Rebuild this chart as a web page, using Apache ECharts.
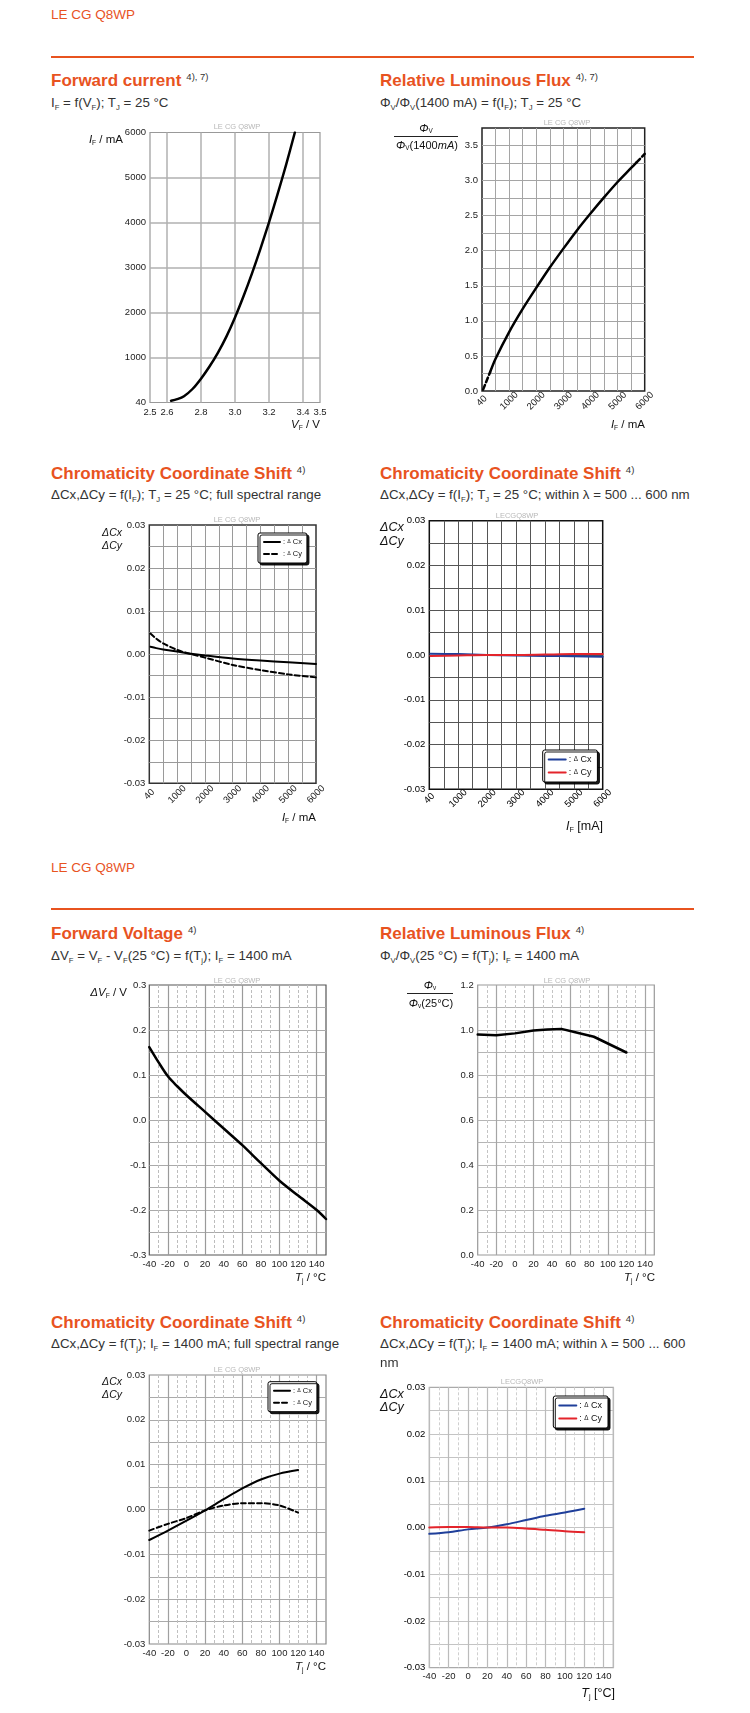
<!DOCTYPE html>
<html>
<head>
<meta charset="utf-8">
<title>LE CG Q8WP</title>
<script src="https://cdn.jsdelivr.net/npm/echarts@6/dist/echarts.min.js"></script>
<style>
html,body{margin:0;padding:0;background:#fff;}
#page{position:relative;width:750px;height:1713px;overflow:hidden;font-family:"Liberation Sans",Arial,Helvetica,sans-serif;color:#333;}
.t{position:absolute;white-space:nowrap;line-height:1;}
.hdr{font-size:13.5px;color:#e8531f;}
.rule{position:absolute;left:51px;width:643px;height:2px;background:#e8531f;}
.ttl{font-size:17px;font-weight:bold;color:#e8531f;}
.sup{font-size:9.5px;font-weight:normal;color:#333;vertical-align:top;margin-left:5px;}
.sub{font-size:13.3px;color:#333;}
.t sub{font-size:0.58em;vertical-align:-0.28em;line-height:0;}
.wm{font-size:7.5px;color:#b8b8b8;}
.an{font-size:11.5px;color:#111;}
.an10{font-size:10.5px;color:#111;font-style:italic;}
.an4{font-size:12.5px;color:#111;font-style:italic;}
.an4n{font-size:12.5px;color:#111;}
.fr{font-size:11px;color:#111;}
.frac{position:absolute;height:1px;background:#222;}
.chart{position:absolute;}
</style>
</head>
<body>
<div id="page"></div>
<script>
// ================= DATA =================
// Forward current I_F vs V_F
const fcVoltage = [2.624, 2.66, 2.70, 2.75, 2.80, 2.85, 2.90, 2.95, 3.00, 3.05, 3.10, 3.15, 3.20, 3.25, 3.30, 3.352];
const fcCurrent = [40, 75, 140, 300, 530, 800, 1110, 1470, 1890, 2360, 2870, 3420, 4005, 4625, 5275, 6000];
const fcXTickLabels = ['2.5', '2.6', '2.8', '3.0', '3.2', '3.4', '3.5'];
const fcYTickLabels = ['40', '1000', '2000', '3000', '4000', '5000', '6000'];

// Relative luminous flux vs I_F
const rlfCurrent = [40, 300, 500, 1000, 1500, 2000, 2500, 3000, 3500, 4000, 4500, 5000, 5500, 5700, 6000];
const rlfRatio = [0.02, 0.27, 0.46, 0.84, 1.17, 1.47, 1.76, 2.03, 2.29, 2.53, 2.76, 2.98, 3.18, 3.26, 3.38];
const rlfYTickLabels = ['0.0', '0.5', '1.0', '1.5', '2.0', '2.5', '3.0', '3.5'];
const ifTickLabels = ['40', '1000', '2000', '3000', '4000', '5000', '6000'];

// Chromaticity shift vs I_F, full spectral range
const csIfCurrent = [40, 250, 500, 1000, 1500, 2000, 3000, 4000, 5000, 6000];
const csIfCx = [0.0017, 0.0014, 0.0011, 0.0006, 0.0001, -0.0003, -0.0010, -0.0015, -0.0019, -0.0023];
const csIfCy = [0.0048, 0.0036, 0.0025, 0.0010, 0.0000, -0.0008, -0.0025, -0.0037, -0.0047, -0.0054];

// Chromaticity shift vs I_F, within 500...600 nm
const csLamCurrent = [40, 1000, 2000, 3000, 4000, 5000, 6000];
const csLamCx = [0.0003, 0.0002, 0.0000, -0.0001, -0.0002, -0.0003, -0.0004];
const csLamCy = [-0.0002, -0.0001, 0.0000, 0.0000, 0.0001, 0.0002, 0.0002];
const ccYTickLabels = ['-0.03', '-0.02', '-0.01', '0.00', '0.01', '0.02', '0.03'];

// Forward voltage shift vs T_j
const fvTemp = [-40, -30, -20, -10, 0, 20, 40, 60, 80, 100, 120, 140, 150];
const fvDelta = [0.162, 0.128, 0.097, 0.075, 0.055, 0.018, -0.019, -0.056, -0.096, -0.135, -0.168, -0.200, -0.220];
const fvYTickLabels = ['-0.3', '-0.2', '-0.1', '0.0', '0.1', '0.2', '0.3'];

// Relative luminous flux vs T_j
const rlfTTemp = [-40, -20, 0, 20, 35, 50, 65, 85, 100, 120];
const rlfTRatio = [0.980, 0.977, 0.985, 0.998, 1.002, 1.005, 0.990, 0.970, 0.940, 0.900];
const rlfTYTickLabels = ['0.0', '0.2', '0.4', '0.6', '0.8', '1.0', '1.2'];

// Chromaticity shift vs T_j, full spectral range
const csTjTemp = [-40, -20, 0, 20, 40, 60, 80, 100, 120];
const csTjCx = [-0.0068, -0.0047, -0.0025, -0.0002, 0.0023, 0.0047, 0.0067, 0.0080, 0.0088];
const csTjCy = [-0.0047, -0.0032, -0.0019, -0.0002, 0.0009, 0.0014, 0.0014, 0.0009, -0.0007];

// Chromaticity shift vs T_j, within 500...600 nm
const csTjLamTemp = [-40, -20, 0, 20, 40, 60, 80, 100, 120];
const csTjLamCx = [-0.00135, -0.0010, -0.0004, 0.0000, 0.0007, 0.0016, 0.0025, 0.0032, 0.0040];
const csTjLamCy = [0.0000, 0.0001, 0.0001, 0.0000, 0.0000, -0.0002, -0.0005, -0.0008, -0.0010];

const tjXTickLabels = ['-40', '-20', '0', '20', '40', '60', '80', '100', '120', '140'];

// ================= HELPERS =================
const FONT = '"Liberation Sans", Arial, Helvetica, sans-serif';
const page = document.getElementById('page');

function put(html, x, y, cls, anchor) {
  const d = document.createElement('div');
  d.className = 't ' + cls;
  d.innerHTML = html;
  d.style.left = x + 'px';
  d.style.top = y + 'px';
  const tx = anchor === 'r' ? '-100%' : (anchor === 'c' ? '-50%' : '0');
  d.style.transform = 'translate(' + tx + ',-50%)';
  page.appendChild(d);
  return d;
}
function rule(y) {
  const d = document.createElement('div');
  d.className = 'rule';
  d.style.top = y + 'px';
  page.appendChild(d);
}
function fracLine(x, y, w) {
  const d = document.createElement('div');
  d.className = 'frac';
  d.style.left = x + 'px'; d.style.top = y + 'px'; d.style.width = w + 'px';
  page.appendChild(d);
}
function chartDiv(left, top, w, h) {
  const d = document.createElement('div');
  d.className = 'chart';
  d.style.left = left + 'px'; d.style.top = top + 'px';
  d.style.width = w + 'px'; d.style.height = h + 'px';
  page.appendChild(d);
  return echarts.init(d, null, { renderer: 'canvas' });
}
function lbl(extra) {
  return Object.assign({ fontSize: 9.5, color: '#222', fontFamily: FONT, margin: 4 }, extra);
}
function split(color, width, type, hideEdges) {
  return { show: true, showMinLine: !hideEdges, showMaxLine: !hideEdges,
    lineStyle: { color: color, width: width || 1, type: type || 'solid' } };
}
function vAxis(min, max, interval, label, splitLine, extra) {
  return Object.assign({ type: 'value', min: min, max: max, interval: interval,
    axisLine: { show: false }, axisTick: { show: false },
    axisLabel: label, splitLine: splitLine }, extra || {});
}
function pairs(xs, ys) { return xs.map((x, i) => [x, ys[i]]); }
function lineSeries(name, data, color, width, type, smooth) {
  return { name: name, type: 'line', data: data, symbol: 'none', showSymbol: false,
    smooth: smooth ? 0.3 : false, silent: true, z: 5,
    lineStyle: { color: color, width: width, type: type || 'solid', cap: 'round', join: 'round' },
    itemStyle: { color: color } };
}
function legendCfg(left, top, fs, iw, pad, gap) {
  return {
    show: true, left: left, top: top, orient: 'vertical', data: ['ΔCx', 'ΔCy'],
    itemWidth: iw, itemHeight: 8, itemGap: gap, padding: pad,
    backgroundColor: '#fff', borderColor: '#000', borderWidth: 1, borderRadius: 2,
    shadowColor: 'rgba(0,0,0,0.9)', shadowBlur: 0, shadowOffsetX: 2, shadowOffsetY: 2,
    selectedMode: false, itemStyle: { opacity: 0 },
    textStyle: { fontSize: fs, color: '#111', fontFamily: FONT, padding: [0, 0, 0, -2],
      rich: { d: { fontSize: fs * 0.7, color: '#111', fontFamily: FONT } } },
    formatter: n => ': {d|Δ} ' + n.slice(1)
  };
}
function ifAxis(margin, gridColor, labelColor) {
  return vAxis(0, 6000, 500,
    lbl({ rotate: 45, align: 'center', verticalAlign: 'middle', margin: margin, color: labelColor || '#222',
      formatter: v => (v % 1000 === 0 ? ifTickLabels[v / 1000] : '') }),
    split(gridColor, 1, 'solid', true));
}
function ccYAxis(gridColor, labelColor) {
  return vAxis(-0.03, 0.03, 0.005,
    lbl({ color: labelColor || '#222', formatter: v => {
      const k = Math.round(v * 1000);
      return k % 10 === 0 ? ccYTickLabels[k / 10 + 3] : '';
    } }),
    split(gridColor, 1, 'solid', true));
}
function tempAxes(dashColor, solidColors, labelColor) {
  return [
    vAxis(-40, 150, 10,
      lbl({ color: labelColor || '#222', formatter: v => (tjXTickLabels.includes(String(v)) ? String(v) : '') }),
      split(dashColor, 1, [3, 2], true)),
    vAxis(-40, 150, 20, { show: false },
      { show: true, lineStyle: { color: solidColors, width: 1.2 } })
  ];
}
const TRANSP = 'rgba(0,0,0,0)';

// ================= CHARTS =================
// 1. Forward current
chartDiv(0, 115, 375, 330).setOption({
  animation: false, textStyle: { fontFamily: FONT },
  grid: { left: 150, top: 17.5, width: 170, height: 270, show: true, borderColor: '#999', borderWidth: 1.2 },
  xAxis: vAxis(2.5, 3.5, 0.1,
    lbl({ margin: 5, formatter: v => { const s = v.toFixed(1); return fcXTickLabels.includes(s) ? s : ''; } }),
    { show: true, lineStyle: { color: [TRANSP, '#b0b0b0'], width: 1.5 } }),
  yAxis: vAxis(0, 6000, 1000,
    lbl({ formatter: v => fcYTickLabels[Math.round(v / 1000)] }),
    split('#b0b0b0', 1.5, 'solid', true)),
  series: [lineSeries('IF', pairs(fcVoltage, fcCurrent), '#000', 2.5, 'solid', true)]
});

// 2. Relative luminous flux vs IF
chartDiv(375, 115, 375, 330).setOption({
  animation: false, textStyle: { fontFamily: FONT },
  grid: { left: 107, top: 13, width: 162.7, height: 263, show: true, borderColor: '#222', borderWidth: 1.5 },
  xAxis: ifAxis(10, '#a5a5a5'),
  yAxis: vAxis(0, 3.75, 0.25,
    lbl({ formatter: v => { const k = Math.round(v * 100); return k % 50 === 0 ? (rlfYTickLabels[k / 50] || '') : ''; } }),
    split('#a5a5a5', 1, 'solid', true)),
  series: [
    lineSeries('lo', pairs(rlfCurrent.slice(0, 2), rlfRatio.slice(0, 2)), '#000', 2.5, [5, 3], false),
    lineSeries('mid', pairs(rlfCurrent.slice(1, 14), rlfRatio.slice(1, 14)), '#000', 2.5, 'solid', true),
    lineSeries('hi', pairs(rlfCurrent.slice(13), rlfRatio.slice(13)), '#000', 2.5, [5, 3], false)
  ]
});

// 3. Chromaticity shift vs IF (full spectral)
chartDiv(0, 510, 375, 330).setOption({
  animation: false, textStyle: { fontFamily: FONT },
  grid: { left: 149.3, top: 15, width: 166.7, height: 258.3, show: true, borderColor: '#333', borderWidth: 1.5 },
  legend: legendCfg(258, 23, 7.5, 16, [5, 5, 5, 5], 4),
  xAxis: ifAxis(11, '#9a9a9a'),
  yAxis: ccYAxis('#9a9a9a'),
  series: [
    lineSeries('ΔCx', pairs(csIfCurrent, csIfCx), '#000', 2, 'solid', true),
    lineSeries('ΔCy', pairs(csIfCurrent, csIfCy), '#000', 2, [5, 3], true)
  ]
});

// 4. Chromaticity shift vs IF (500...600 nm)
chartDiv(375, 510, 375, 330).setOption({
  animation: false, textStyle: { fontFamily: FONT },
  grid: { left: 54.3, top: 10.7, width: 173.4, height: 268.6, show: true, borderColor: '#111', borderWidth: 1.5 },
  legend: legendCfg(167.7, 240, 9, 17, [5, 6, 5, 5], 4),
  xAxis: ifAxis(9, '#555', '#000'),
  yAxis: ccYAxis('#555', '#000'),
  series: [
    lineSeries('ΔCx', pairs(csLamCurrent, csLamCx), '#1f3f9a', 2, 'solid', true),
    lineSeries('ΔCy', pairs(csLamCurrent, csLamCy), '#e3242b', 2, 'solid', true)
  ]
});

// 5. Forward voltage vs Tj
chartDiv(0, 970, 375, 320).setOption({
  animation: false, textStyle: { fontFamily: FONT },
  grid: { left: 149.3, top: 15, width: 176.7, height: 270, show: true, borderColor: '#555', borderWidth: 1.2 },
  xAxis: tempAxes('#bdbdbd', [TRANSP, '#9a9a9a']),
  yAxis: vAxis(-0.3, 0.3, 0.05,
    lbl({ margin: 3, formatter: v => { const k = Math.round(v * 100); return k % 10 === 0 ? fvYTickLabels[k / 10 + 3] : ''; } }),
    split('#aaa', 1, 'solid', true)),
  series: [lineSeries('dVF', pairs(fvTemp, fvDelta), '#000', 2.5, 'solid', true)]
});

// 6. Relative luminous flux vs Tj
chartDiv(375, 970, 375, 320).setOption({
  animation: false, textStyle: { fontFamily: FONT },
  grid: { left: 102.7, top: 15, width: 176.6, height: 270, show: true, borderColor: '#999', borderWidth: 1.2 },
  xAxis: tempAxes('#c4c4c4', [TRANSP, '#a5a5a5']),
  yAxis: vAxis(0, 1.2, 0.1,
    lbl({ margin: 4, formatter: v => { const k = Math.round(v * 10); return k % 2 === 0 ? rlfTYTickLabels[k / 2] : ''; } }),
    split('#b5b5b5', 1, 'solid', true)),
  series: [lineSeries('phiT', pairs(rlfTTemp, rlfTRatio), '#000', 2.5, 'solid', false)]
});

// 7. Chromaticity shift vs Tj (full spectral)
chartDiv(0, 1360, 375, 353).setOption({
  animation: false, textStyle: { fontFamily: FONT },
  grid: { left: 149.3, top: 15, width: 176.7, height: 269, show: true, borderColor: '#888', borderWidth: 1.2 },
  legend: legendCfg(268, 21.7, 7.5, 16, [5, 5, 5, 5], 4),
  xAxis: tempAxes('#c0c0c0', [TRANSP, '#a0a0a0']),
  yAxis: ccYAxis('#aaa'),
  series: [
    lineSeries('ΔCx', pairs(csTjTemp, csTjCx), '#000', 2, 'solid', true),
    lineSeries('ΔCy', pairs(csTjTemp, csTjCy), '#000', 2, [5, 3], true)
  ]
});

// 8. Chromaticity shift vs Tj (500...600 nm)
chartDiv(375, 1360, 375, 353).setOption({
  animation: false, textStyle: { fontFamily: FONT },
  grid: { left: 54.3, top: 27.3, width: 184, height: 280.4, show: true, borderColor: '#aaa', borderWidth: 1.2 },
  legend: legendCfg(178.3, 36, 9, 17, [5, 6, 5, 5], 4),
  xAxis: tempAxes('#cfcfcf', ['#bbbbbb']),
  yAxis: ccYAxis('#c4c4c4', '#000'),
  series: [
    lineSeries('ΔCx', pairs(csTjLamTemp, csTjLamCx), '#1f3f9a', 2, 'solid', true),
    lineSeries('ΔCy', pairs(csTjLamTemp, csTjLamCy), '#e3242b', 2, 'solid', true)
  ]
});

// ================= TEXT =================
put('LE CG Q8WP', 51, 15, 'hdr');
rule(56);
put('Forward current<span class="sup">4), 7)</span>', 51, 80, 'ttl');
put('I<sub>F</sub> = f(V<sub>F</sub>); T<sub>J</sub> = 25 °C', 51, 103, 'sub');
put('Relative Luminous Flux<span class="sup">4), 7)</span>', 380, 80, 'ttl');
put('Φ<sub>V</sub>/Φ<sub>V</sub>(1400 mA) = f(I<sub>F</sub>); T<sub>J</sub> = 25 °C', 380, 103, 'sub');

put('Chromaticity Coordinate Shift<span class="sup">4)</span>', 51, 472.7, 'ttl');
put('ΔCx,ΔCy = f(I<sub>F</sub>); T<sub>J</sub> = 25 °C; full spectral range', 51, 495, 'sub');
put('Chromaticity Coordinate Shift<span class="sup">4)</span>', 380, 472.7, 'ttl');
put('ΔCx,ΔCy = f(I<sub>F</sub>); T<sub>J</sub> = 25 °C; within λ = 500 ... 600 nm', 380, 495, 'sub');

put('LE CG Q8WP', 51, 868, 'hdr');
rule(908);
put('Forward Voltage<span class="sup">4)</span>', 51, 933, 'ttl');
put('ΔV<sub>F</sub> = V<sub>F</sub> - V<sub>F</sub>(25 °C) = f(T<sub>j</sub>); I<sub>F</sub> = 1400 mA', 51, 956, 'sub');
put('Relative Luminous Flux<span class="sup">4)</span>', 380, 933, 'ttl');
put('Φ<sub>V</sub>/Φ<sub>V</sub>(25 °C) = f(T<sub>j</sub>); I<sub>F</sub> = 1400 mA', 380, 956, 'sub');

put('Chromaticity Coordinate Shift<span class="sup">4)</span>', 51, 1321.7, 'ttl');
put('ΔCx,ΔCy = f(T<sub>j</sub>); I<sub>F</sub> = 1400 mA; full spectral range', 51, 1344, 'sub');
put('Chromaticity Coordinate Shift<span class="sup">4)</span>', 380, 1321.7, 'ttl');
put('ΔCx,ΔCy = f(T<sub>j</sub>); I<sub>F</sub> = 1400 mA; within λ = 500 ... 600', 380, 1344, 'sub');
put('nm', 380, 1362.5, 'sub');

// watermarks
put('LE CG Q8WP', 237, 127, 'wm', 'c');
put('LE CG Q8WP', 567, 123, 'wm', 'c');
put('LE CG Q8WP', 237, 520, 'wm', 'c');
put('LECGQ8WP', 517, 516, 'wm', 'c');
put('LE CG Q8WP', 237, 981, 'wm', 'c');
put('LE CG Q8WP', 567, 981, 'wm', 'c');
put('LE CG Q8WP', 237, 1370, 'wm', 'c');
put('LECGQ8WP', 522, 1382, 'wm', 'c');

// axis names
put('<i>I</i><sub>F</sub> / mA', 123, 140, 'an', 'r');
put('<i>V</i><sub>F</sub> / V', 320, 425, 'an', 'r');
put('<i>Φ</i><sub>V</sub>', 426, 127.5, 'fr', 'c');
fracLine(394, 136, 64);
put('<i>Φ</i><sub>V</sub>(1400<i>mA</i>)', 427, 145, 'fr', 'c');
put('<i>I</i><sub>F</sub> / mA', 645, 425, 'an', 'r');

put('ΔCx', 122, 532, 'an10', 'r');
put('ΔCy', 122, 545, 'an10', 'r');
put('<i>I</i><sub>F</sub> / mA', 316, 818, 'an', 'r');
put('ΔCx', 380, 527, 'an4');
put('ΔCy', 380, 541, 'an4');
put('<i>I</i><sub>F</sub> [mA]', 603, 826, 'an4n', 'r');

put('<i>ΔV</i><sub>F</sub> / V', 127, 993, 'an', 'r');
put('<i>T</i><sub>j</sub> / °C', 326, 1278, 'an', 'r');
put('<i>Φ</i><sub>v</sub>', 430, 985, 'fr', 'c');
fracLine(407, 992.5, 46);
put('<i>Φ</i><sub>v</sub>(25°C)', 431, 1003, 'fr', 'c');
put('<i>T</i><sub>j</sub> / °C', 655, 1278, 'an', 'r');

put('ΔCx', 122, 1381, 'an10', 'r');
put('ΔCy', 122, 1394, 'an10', 'r');
put('<i>T</i><sub>j</sub> / °C', 326, 1667, 'an', 'r');
put('ΔCx', 380, 1394.3, 'an4');
put('ΔCy', 380, 1407.3, 'an4');
put('<i>T</i><sub>j</sub> [°C]', 615, 1693, 'an4n', 'r');
</script>
</body>
</html>
